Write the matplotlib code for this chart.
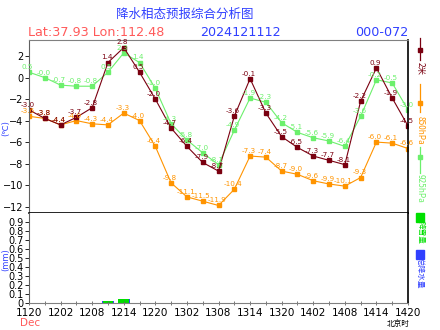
import matplotlib
matplotlib.use('Agg')
import matplotlib.pyplot as plt

plt.rcParams['font.family'] = ['DejaVu Sans', 'Noto Sans CJK SC']

# forecast hours (every 3h from 2024-12-11 20h Beijing time)
hours = list(range(0, 73, 3))
t2m = [-3.0, -3.8, -4.4, -3.7, -2.8, 1.4, 2.8, 0.5, -2.0, -4.7, -6.4, -7.9, -8.7,
       -3.6, -0.1, -3.3, -5.5, -6.5, -7.3, -7.7, -8.1, -2.2, 0.9, -1.9, -4.5]
t850 = [-3.6, -3.8, -4.4, -4.0, -4.3, -4.4, -3.3, -4.0, -6.4, -9.8, -11.1, -11.5, -11.9,
        -10.4, -7.3, -7.4, -8.7, -9.0, -9.6, -9.9, -10.1, -9.3, -6.0, -6.1, -6.6]
t925 = [0.5, -0.0, -0.7, -0.8, -0.8, 0.5, 2.3, 1.4, -1.0, -4.3, -5.8, -7.0, -8.1,
        -4.9, -1.9, -2.3, -4.2, -5.1, -5.6, -5.9, -6.4, -3.6, -0.2, -0.5, -3.0]

# precipitation bars
rain_hours = [15, 18]
total_precip = [0.02, 0.045]
snow = [0.018, 0.04]

tick_hours = list(range(0, 73, 6))
tick_labels = ['1120', '1202', '1208', '1214', '1220', '1302', '1308',
               '1314', '1320', '1402', '1408', '1414', '1420']

c_red = '#7a0010'
c_orange = '#ff9400'
c_green = '#6cf06c'
c_blue = '#3040ff'

fig = plt.figure(figsize=(4.4, 3.3), dpi=100)
ax = fig.add_axes([29/440, 1 - 213/330, 379/440, 173/330])
ax2 = fig.add_axes([29/440, 1 - 303/330, 379/440, 90/330])

# temperature lines with value labels
for vals, col, ms in [(t850, c_orange, 2.6), (t925, c_green, 2.6), (t2m, c_red, 3.2)]:
    ax.plot(hours, vals, color=col, lw=0.8, marker='s', ms=ms, mec=col, mfc=col)
    for h, v in zip(hours, vals):
        ax.annotate('%.1f' % v, (h, v), xytext=(-1, 1.5), textcoords='offset points',
                    ha='center', va='bottom', fontsize=5.2, color=col)

ax.set_xlim(0, 72)
ax.set_ylim(-12.6, 3.5)
ax.set_yticks(range(-12, 3, 2))
ax.set_xticks([])
ax.tick_params(axis='y', labelsize=7, length=3, width=0.6, pad=1)
ax.spines['top'].set_color('#808080')
ax.spines['left'].set_color('#606060')
ax.spines['bottom'].set_linewidth(1.2)
ax.spines['right'].set_linewidth(1.2)

# precipitation panel
ax2.bar(rain_hours, total_precip, width=2.3, color=c_blue)
ax2.bar(rain_hours, snow, width=2.0, color='#00dd00')
ax2.set_xlim(0, 72)
ax2.set_ylim(0, 1.0)
ax2.set_yticks([i / 10 for i in range(10)])
ax2.set_yticklabels(['0'] + ['0.%d' % i for i in range(1, 10)])
ax2.set_xticks(tick_hours)
ax2.set_xticklabels(tick_labels)
ax2.set_xticks(hours, minor=True)
ax2.tick_params(axis='y', labelsize=7, length=3, width=0.6, pad=1)
ax2.tick_params(axis='x', which='both', labelsize=7.5, length=3, width=0.6, pad=2,
                direction='inout', color='#606060')
ax2.spines['top'].set_visible(False)
ax2.spines['left'].set_color('#606060')
ax2.spines['bottom'].set_color('#808080')
ax2.spines['right'].set_linewidth(1.2)

# titles
cjk = ['Noto Sans CJK SC', 'DejaVu Sans']
fig.text(185/440, 1 - 14/330, '降水相态预报综合分析图', color=c_blue, fontsize=9,
         ha='center', va='center', family=cjk)
fig.text(28/440, 1 - 32/330, 'Lat:37.93 Lon:112.48', color='#ff5a5a', fontsize=9.2,
         ha='left', va='center')
fig.text(240/440, 1 - 32/330, '2024121112', color=c_blue, fontsize=9.2,
         ha='center', va='center')
fig.text(408/440, 1 - 32/330, '000-072', color=c_blue, fontsize=9.2,
         ha='right', va='center')
fig.text(6/440, 1 - 128/330, '(℃)', color=c_blue, fontsize=6, rotation=90,
         ha='center', va='center')
fig.text(6/440, 1 - 260/330, '(mm)', color=c_blue, fontsize=6, rotation=90,
         ha='center', va='center')
fig.text(30/440, 1 - 323/330, 'Dec', color='#ff5a5a', fontsize=7.5, ha='center', va='center')
fig.text(398/440, 1 - 324/330, '北京时', color='black', fontsize=5.5, ha='center',
         va='center', family=cjk)

# right side legend
lx = 420/440
for y0, y1, ym, ty, txt, col in [(38, 60, 50, 68, '2米', c_red),
                                 (84, 112, 103, 130, '850hPa', c_orange),
                                 (147, 173, 157, 188, '925hPa', c_green)]:
    fig.add_artist(plt.Line2D([lx, lx], [1 - y0/330, 1 - y1/330], color=col, lw=0.9))
    fig.add_artist(plt.Line2D([lx], [1 - ym/330], color=col, marker='s', ms=2.5))
    fig.text(lx, 1 - ty/330, txt, color=col, fontsize=6, rotation=270,
             ha='center', va='center', family=cjk)

for y0, ty, txt, col in [(213, 232, '降雪量', '#00e000'), (250, 273, '总降水量', c_blue)]:
    fig.add_artist(plt.Rectangle((416/440, 1 - (y0 + 9)/330), 8/440, 9/330,
                                 color=col, transform=fig.transFigure))
    fig.text(lx, 1 - ty/330, txt, color=col, fontsize=5.5, rotation=270,
             ha='center', va='center', family=cjk)

plt.savefig('out.png', dpi=100)
